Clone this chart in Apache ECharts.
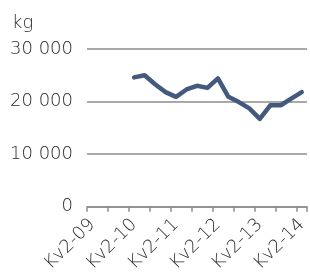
<!DOCTYPE html>
<html><head><meta charset="utf-8">
<script src="https://cdn.jsdelivr.net/npm/echarts@6/dist/echarts.min.js"></script>
<style>html,body{margin:0;padding:0;background:#fff}#c{width:310px;height:275px}</style>
</head><body><div id="c"></div>
<script>
var categories = ['Kv2-09','Kv3-09','Kv4-09','Kv1-10','Kv2-10','Kv3-10','Kv4-10','Kv1-11','Kv2-11','Kv3-11','Kv4-11','Kv1-12','Kv2-12','Kv3-12','Kv4-12','Kv1-13','Kv2-13','Kv3-13','Kv4-13','Kv1-14','Kv2-14'];
var values = [null,null,null,null,24600,25000,23300,21800,20900,22300,23000,22600,24400,20900,19900,18700,16700,19300,19300,20550,21800];
var yTicks = [0,10000,20000,30000];
var unitLabel = 'kg';
var FONT = 'DejaVu Sans';
var TXT = '#2b2b2b';
var chart = echarts.init(document.getElementById('c'), null, {renderer:'canvas'});
chart.setOption({
  animation:false,
  title:{text:unitLabel,left:12,top:14,padding:0,textStyle:{fontSize:18,fontWeight:200,fontFamily:FONT,color:TXT}},
  grid:{left:87,top:49,width:228,height:162,containLabel:false},
  xAxis:{type:'category',data:categories,boundaryGap:true,
    axisLine:{lineStyle:{color:'#8c8c8c',width:1.5}},
    axisTick:{show:true,interval:1,length:5,lineStyle:{color:'#8c8c8c',width:1.5}},
    axisLabel:{interval:3,rotate:45,margin:15,fontSize:18,fontWeight:200,fontFamily:FONT,color:TXT}},
  yAxis:{type:'value',min:yTicks[0],max:yTicks[yTicks.length-1],interval:10000,
    axisLine:{show:false},axisTick:{show:false},
    splitLine:{lineStyle:{color:'#8c8c8c',width:1.5}},
    axisLabel:{margin:14,fontSize:18,fontWeight:200,fontFamily:FONT,color:TXT,
      formatter:function(v){return String(v).replace(/\B(?=(\d{3})+(?!\d))/g,' ');}}},
  series:[{type:'line',data:values,showSymbol:false,symbol:'none',connectNulls:false,
    lineStyle:{color:'#44597E',width:4.5,cap:'round',join:'round'}}]
});
</script></body></html>
